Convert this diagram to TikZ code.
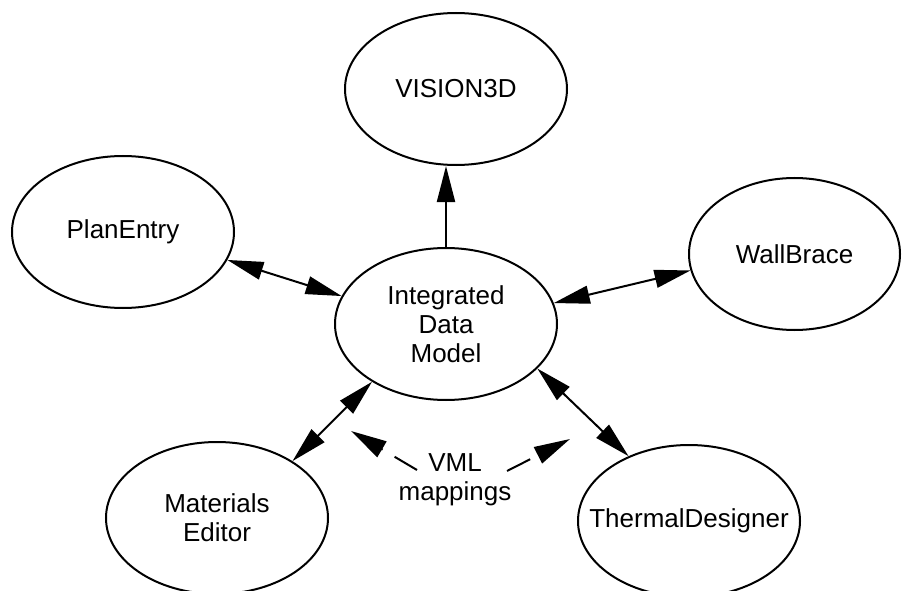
\documentclass[tikz,border=0pt]{standalone}
\usepackage{fontspec}
\setmainfont{Liberation Sans}
\usetikzlibrary{arrows.meta,shapes.geometric}

\begin{document}
\begin{tikzpicture}[x=1bp, y=-1bp,
		>={Triangle[length=36bp, width=18bp]},
		module/.style={ellipse, draw, line width=2bp, minimum width=222bp, minimum height=152bp, align=center, font=\fontsize{26bp}{29bp}\selectfont},
		link/.style={line width=2bp},
		mapping/.style={line width=2bp, dash pattern=on 26bp off 14bp}]
			%%%%% START %%%%%
			\useasboundingbox (0, 0) rectangle (902, 591);
			
			% data model in the middle, tools around it
			\node[module] (idm) at (446, 324) {Integrated\\Data\\Model};
			\node[module] (vision) at (456, 89) {VISION3D};
			\node[module] (plan) at (123, 232) {PlanEntry};
			\node[module, minimum width=211bp] (wall) at (794.5, 254) {WallBrace};
			\node[module] (mat) at (217, 518) {Materials\\Editor};
			\node[module] (thermal) at (689, 521) {\makebox[0pt]{ThermalDesigner}};
			
			\draw[link, ->] (idm.north) -- (idm.north |- vision.south);
			\draw[link, <->] (plan.345) -- (idm.165);
			\draw[link, <->] (idm.11) -- (wall.189);
			\draw[link, <->] (idm.218) -- (mat.37);
			\draw[link, <->] (idm.334) -- (thermal.133);
			
			% the mappings
			\node[font=\fontsize{26bp}{29bp}\selectfont, align=center] (vml) at (455, 480) {VML\\mappings};
			\coordinate (mapL) at (417, 470);
			\coordinate (mapR) at (507, 471);
			\coordinate (tipL) at (351, 431);
			\coordinate (tipR) at (570, 439);
			\draw[mapping, ->] (mapL) -- (tipL);
			\draw[mapping, ->] (mapR) -- (tipR);
			
			%%%%% END %%%%%
\end{tikzpicture}
\end{document}
